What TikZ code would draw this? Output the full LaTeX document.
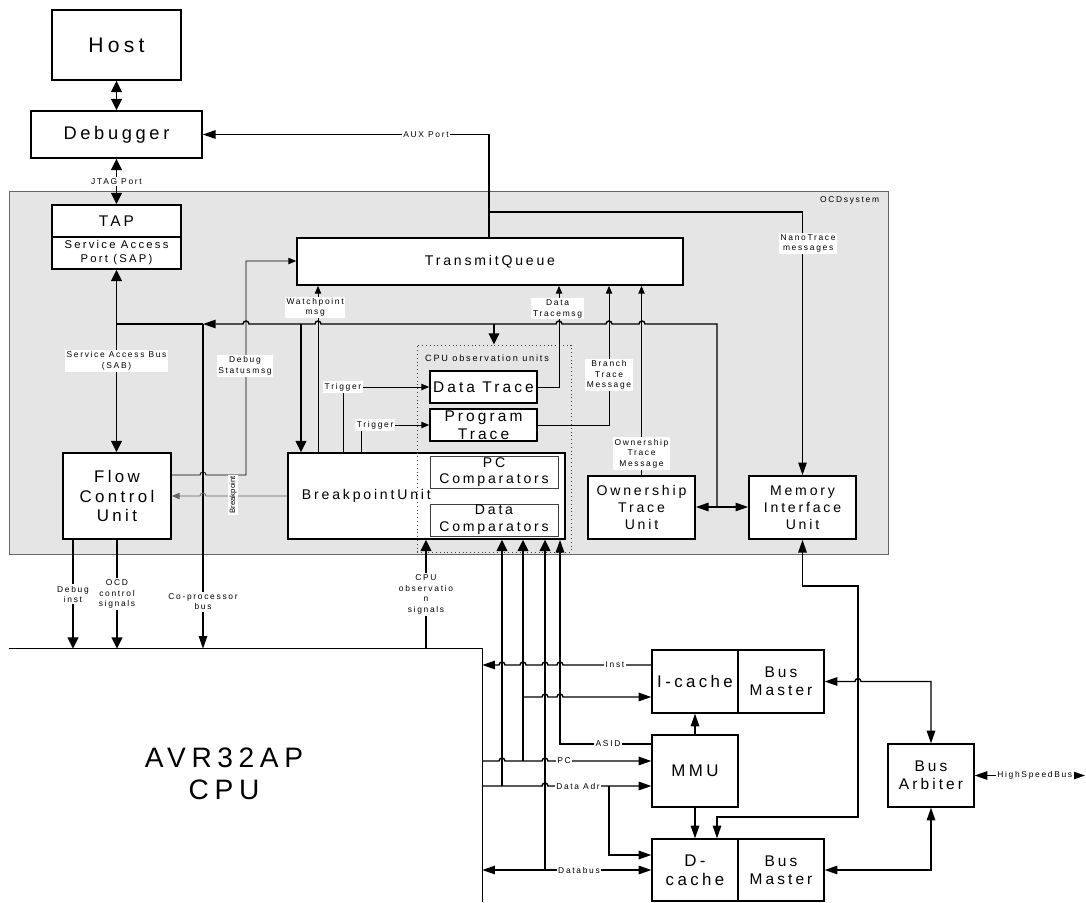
\documentclass[tikz,border=0pt]{standalone}
\usepackage{fontspec}
\setmainfont{Liberation Sans}[LetterSpace=20]
\usetikzlibrary{arrows.meta,positioning,calc}
\definecolor{ocdgray}{RGB}{229,229,229}
\definecolor{bpgray}{RGB}{100,100,100}

% small line jump over a vertical line (for lines drawn left to right)
\newcommand{\hop}[2]{-- (#1-3,#2) arc[start angle=180,end angle=360,radius=3]}

\begin{document}
\begin{tikzpicture}[x=0.025cm, y=-0.025cm,
  wh/.style 2 args={minimum width=#1*0.025cm, minimum height=#2*0.025cm},
  box/.style={draw, line width=1.2pt, fill=white, inner sep=0pt, align=center},
  cbox/.style={draw, line width=0.9pt, fill=white, inner sep=0pt, align=center},
  cmp/.style={draw=black!75, line width=0.7pt, fill=white, inner sep=0pt, align=center},
  lbl/.style={fill=white, inner sep=1.2pt, align=center, font=\fontsize{6}{7.5}\selectfont},
  fat/.style={line width=1.4pt, >={Triangle[length=8pt,width=7.5pt]}},
  bus/.style={line width=1pt, >={Triangle[length=9pt,width=6pt]}},
  msg/.style={line width=0.6pt, >={Triangle[length=5.5pt,width=4.5pt]}},
]
\useasboundingbox (0,0) rectangle (1086,902);

% OCD system area
\node[wh={879}{363}, fill=ocdgray, draw=black!60, line width=0.6pt, inner sep=0pt] (ocd) at (448.5,372.5) {};
\node[font=\fontsize{6}{7}\selectfont, anchor=east] (ocdtxt) at (884,200) {OCDsystem};

% host side
\node[box, wh={129}{70}, font=\fontsize{15}{18}\selectfont] (host) at (116.5,45) {Host};
\node[box, wh={171}{47}, font=\fontsize{13}{16}\selectfont] (dbg) at (116.5,134.5) {Debugger};
\node[box, wh={129}{32}, font=\fontsize{11}{13}\selectfont] (tap) at (116.5,221) {TAP};
\node[box, wh={129}{32}, font=\fontsize{8}{10}\selectfont] (sap) at (116.5,253) {Service Access\\Port (SAP)};

% OCD units
\node[box, wh={386}{47}, font=\fontsize{10}{12}\selectfont] (tq) at (490,261.5) {TransmitQueue};
\node[box, wh={108}{86}, font=\fontsize{12}{14}\selectfont] (fcu) at (117,496) {Flow\\Control\\Unit};
\node[box, wh={277}{86}] (bpu) at (426.5,496) {};
\node[font=\fontsize{10}{12}\selectfont, right=7pt of bpu.west] (bputxt) {BreakpointUnit};
\node[cmp, wh={128}{32}, font=\fontsize{10}{12}\selectfont] (pccmp) at (494,472) {PC\\Comparators};
\node[cmp, wh={128}{32}, font=\fontsize{10}{12}\selectfont] (datacmp) at (494,520) {Data\\Comparators};
\node[box, wh={107}{32}, font=\fontsize{11}{13}\selectfont] (dtrace) at (483.5,387) {Data Trace};
\node[box, wh={107}{32}, font=\fontsize{11}{12.5}\selectfont] (ptrace) at (483.5,425) {Program\\Trace};
\node[wh={154}{207}, draw=black!75, dotted, line width=0.7pt, inner sep=0pt] (obs) at (494,448.5) {};
\node[font=\fontsize{6.5}{8}\selectfont] (obstxt) at (487,358) {CPU observation units};
\node[box, wh={107}{63}, font=\fontsize{10}{12}\selectfont] (otu) at (641.5,507.5) {Ownership\\Trace\\Unit};
\node[box, wh={107}{63}, font=\fontsize{10}{12}\selectfont] (miu) at (802.5,507.5) {Memory\\Interface\\Unit};

% CPU side
\node[wh={473}{253}, inner sep=0pt] (cpu) at (245.5,775.5) {};
\draw[line width=1pt] (cpu.north west) -- (cpu.north east) -- (cpu.south east);
\node[font=\fontsize{20}{22.6}\selectfont, align=center] (cputxt) at (224,774) {AVR32AP\\CPU};
\node[cbox, wh={86}{63}, font=\fontsize{12}{14}\selectfont] (icache) at (695,681.5) {I-cache};
\node[cbox, wh={86}{63}, font=\fontsize{11}{13}\selectfont] (bmi) at (781,681.5) {Bus\\Master};
\node[cbox, wh={86}{72}, font=\fontsize{12}{14}\selectfont] (mmu) at (695,771) {MMU};
\node[cbox, wh={86}{62}, font=\fontsize{12}{13.5}\selectfont] (dcache) at (695,870) {D-\\cache};
\node[cbox, wh={86}{62}, font=\fontsize{11}{13}\selectfont] (bmd) at (781,870) {Bus\\Master};
\node[cbox, wh={86}{63}, font=\fontsize{11}{13}\selectfont] (arb) at (931,775.5) {Bus\\Arbiter};

% junctions
\coordinate (sabj) at (116.5,324);
\coordinate (cpj) at (203,324);
\coordinate (bpj) at (301,324);
\coordinate (obj) at (494,324);
\coordinate (busj) at (717,507);
\coordinate (auxj) at (489,212);

% debug port
\draw[fat,<->] (host) -- (dbg);
\draw[fat,<->] (dbg) -- (tap) node[lbl, midway] {JTAG Port};
\draw[bus,->] (489,0 |- tq.north) |- (dbg.east) node[lbl, pos=0.61] {AUX Port};
\draw[bus,->] (auxj) -| (miu.north) node[lbl, pos=0.56, xshift=4pt] {NanoTrace\\messages};

% service access bus
\draw[fat,<->] (sap.south) -- (sap.south |- fcu.north) node[lbl, midway] {Service Access Bus\\(SAB)};
\draw[bus] (sabj) -- (cpj);
\draw[bus,<-] (cpj) \hop{246}{324} \hop{318}{324} \hop{559}{324} \hop{609}{324} \hop{642}{324} -| (busj);
\draw[bus,->] (busj) -- (busj -| otu.east);
\draw[bus,->] (busj) -- (busj -| miu.west);
\draw[fat,->] (bpj) -- (bpj |- bpu.north);
\draw[fat,->] (obj) -- (obj |- obs.north);
\draw[bus,->] (cpj) -- (cpj |- cpu.north) node[lbl, pos=0.855] {Co-processor\\bus};

% trace messages
\draw[msg,->] (318,0 |- bpu.north) -- (318,0 |- tq.south) node[lbl, pos=0.87, xshift=-2pt] {Watchpoint\\msg};
\draw[msg,->] (343,0 |- bpu.north) |- (dtrace.west) node[lbl, pos=0.5] {Trigger};
\draw[msg,->] (361,0 |- bpu.north) |- (ptrace.west) node[lbl, pos=0.5, xshift=10pt] {Trigger};
\draw[msg,->] (dtrace.east) -| (559,0 |- tq.south) node[lbl, pos=0.887, xshift=-1pt] {Data\\Tracemsg};
\draw[msg,->] (ptrace.east) -| (609,0 |- tq.south) node[lbl, pos=0.68] {Branch\\Trace\\Message};
\draw[msg,->] (otu.north) -- (otu.north |- tq.south) node[lbl, pos=0.115] {Ownership\\Trace\\Message};
\draw[msg,->] (fcu.east |- 0,475) \hop{203}{475} -- (246,475) |- (tq.west |- 0,261);
\node[lbl] (dstxt) at (245,366) {Debug\\Statusmsg};
\draw[msg,bpgray,<-] (fcu.east) \hop{203}{496} -- (bpu.west);
\node[lbl, rotate=90, font=\fontsize{5.5}{6}\selectfont\addfontfeatures{LetterSpace=0}] (bptxt) at (233,495) {Breakpoint};

% OCD to CPU
\draw[fat,->] (73,0 |- fcu.south) -- (73,0 |- cpu.north) node[lbl, midway] {Debug\\inst};
\draw[fat,->] (117,0 |- fcu.south) -- (117,0 |- cpu.north) node[lbl, midway] {OCD\\control\\signals};
\draw[fat,->] (426,0 |- cpu.north) -- (426,0 |- bpu.south) node[lbl, midway] {CPU\\observatio\\n\\signals};

% CPU buses
\draw[bus,<-] (cpu.east |- 0,665) \hop{502}{665} \hop{523}{665} \hop{545}{665} \hop{560}{665} -- (icache.west |- 0,665);
\node[lbl] (insttxt) at (615,665) {Inst};
\draw[bus,->] (523,697) \hop{545}{697} \hop{560}{697} -- (icache.west |- 0,697);
\draw[bus,->] (mmu.west |- 0,744) -- (560,744) -- (560,0 |- bpu.south);
\node[lbl] (asidtxt) at (608,744) {ASID};
\draw[bus,->] (cpu.east |- 0,761) \hop{502}{761} \hop{545}{761} -- (mmu.west |- 0,761);
\node[lbl] (pctxt) at (564,761) {PC};
\draw[bus,->] (cpu.east |- 0,786) \hop{545}{786} -- (mmu.west |- 0,786);
\node[lbl] (adrtxt) at (578,786) {Data Adr};
\draw[bus,->] (609,786) |- (dcache.west |- 0,855);
\draw[bus,<->] (cpu.east |- dcache.west) -- (dcache.west);
\node[lbl] (dbustxt) at (579,870) {Databus};
\draw[fat,->] (502,786) -- (502,0 |- bpu.south);
\draw[fat,->] (523,761) -- (523,0 |- bpu.south);
\draw[fat,->] (545,870) -- (545,0 |- bpu.south);

% memory side
\draw[bus,->] (mmu) -- (icache);
\draw[bus,->] (mmu) -- (dcache);
\draw[bus,<->] (miu.south) |- (858,586) |- (717,817) -- (717,0 |- dcache.north);
\draw[bus,<->] (bmi.east) \hop{858}{681.5} -| (arb.north);
\draw[bus,<->] (bmd.east) -| (arb.south);
\draw[bus,<->] (arb.east) -- (1085,0 |- arb.east) node[lbl, pos=0.545] {HighSpeedBus};
\end{tikzpicture}
\end{document}
